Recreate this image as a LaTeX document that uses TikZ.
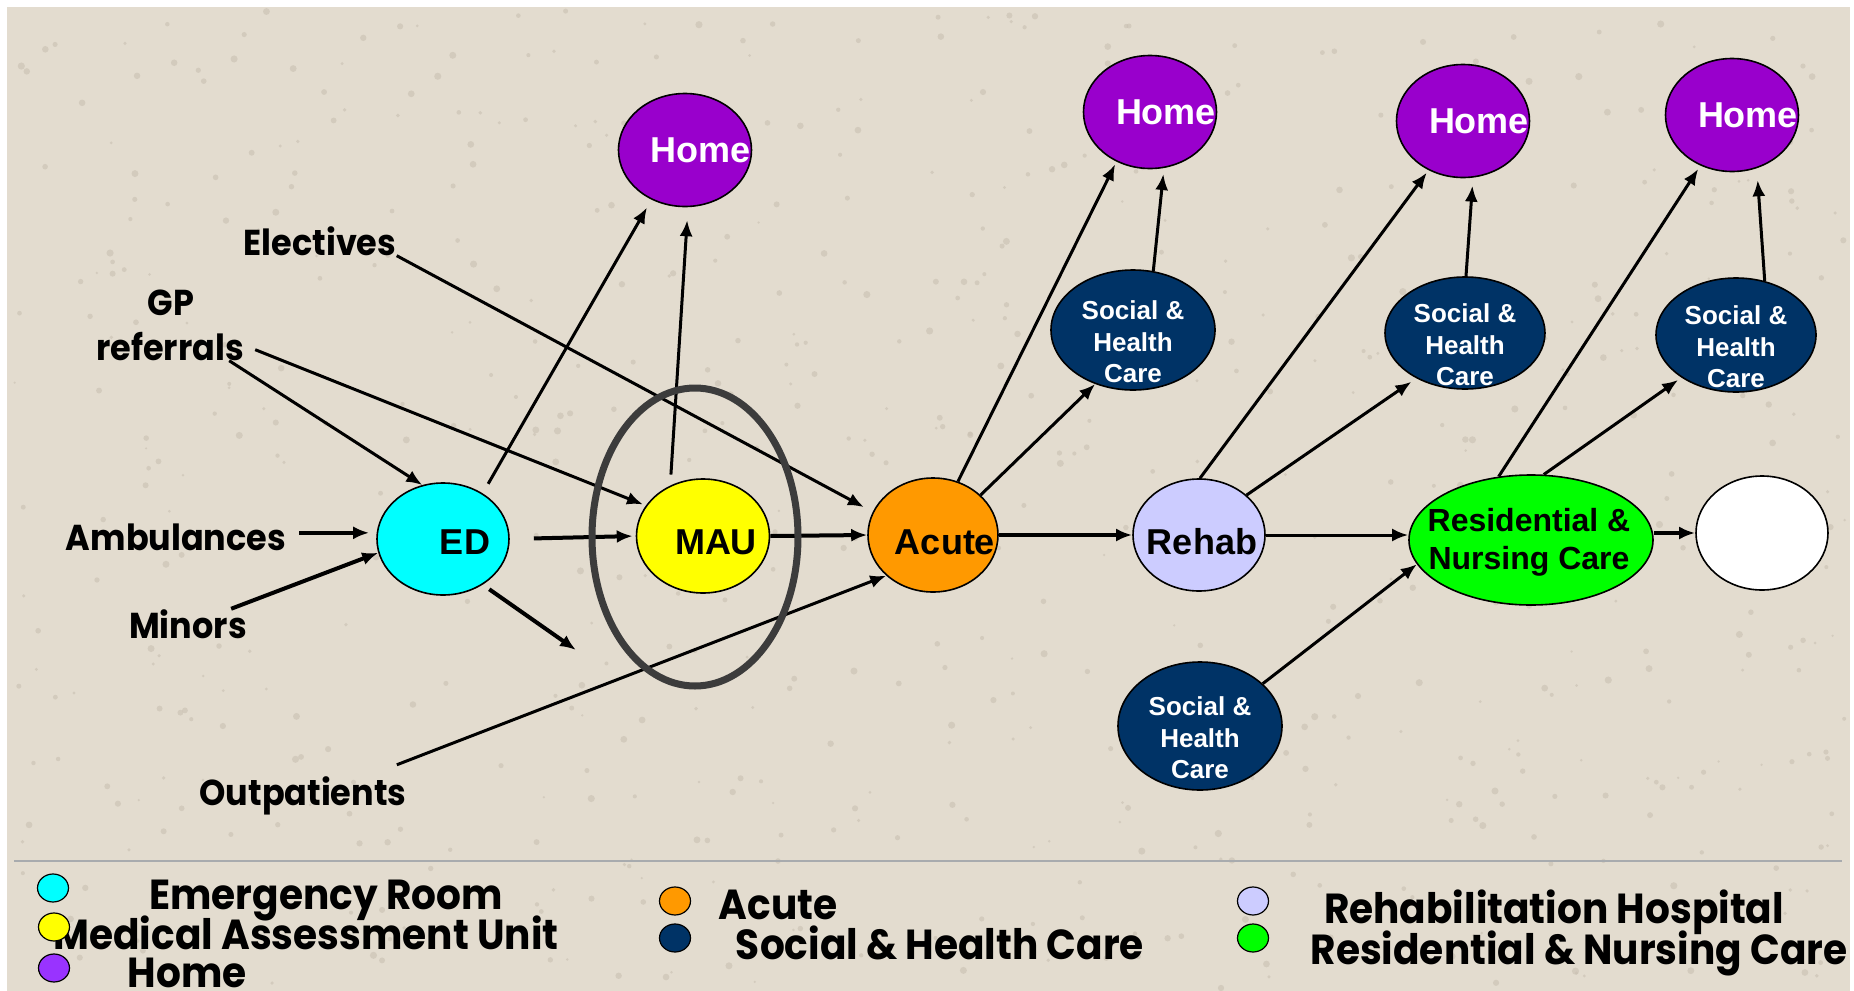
\documentclass[tikz,border=0pt]{standalone}
\usepackage{fontspec}
\setmainfont{Liberation Sans}
\newfontfamily\gothic{Poppins}[FakeStretch=0.93]
\usetikzlibrary{arrows.meta,shapes.geometric}
\definecolor{bgc}{HTML}{E3DCCF}
\definecolor{speck}{HTML}{C9C0B2}
\definecolor{homec}{HTML}{9900CC}
\definecolor{navyc}{HTML}{003366}
\definecolor{oranc}{HTML}{FF9900}
\definecolor{lavc}{HTML}{CCCCFF}
\definecolor{legpur}{HTML}{9933FF}
\definecolor{ringc}{HTML}{3C3C3C}
\definecolor{sepc}{HTML}{A8ABAE}
\definecolor{cyanc}{HTML}{00FFFF}
\definecolor{yelc}{HTML}{FFFF00}
\definecolor{grnc}{HTML}{00FF00}
\begin{document}
\begin{tikzpicture}[x=0.5pt,y=-0.5pt,
  ell/.style={ellipse, draw=black, line width=0.8pt, inner sep=0pt},
  ntxt/.style={font=\bfseries\fontsize{18}{20}\selectfont, inner sep=0pt},
  homen/.style={ell, fill=homec, minimum width=66.5pt, minimum height=56.5pt,
     label={[ntxt, text=white, xshift=8pt]center:Home}},
  socn/.style={ell, fill=navyc, minimum width=81pt, minimum height=58pt,
     label={[font=\bfseries\fontsize{13}{15.75}\selectfont, inner sep=0pt, text=white, align=center, yshift=-6pt]center:Social \&\\Health\\Care}},
  lab/.style={font=\gothic\bfseries\fontsize{18}{22}\selectfont, inner sep=0pt, anchor=base},
  leg/.style={font=\gothic\bfseries\fontsize{21}{25}\selectfont, inner sep=0pt, anchor=base},
  dot/.style={ellipse, draw=black, line width=0.6pt, inner sep=0pt, minimum width=15.5pt, minimum height=14pt},
  arr/.style={-{Latex[length=8pt,width=6.5pt]}, line width=1.5pt},
  arrt/.style={arr, line width=2pt}]
\useasboundingbox (0,0) rectangle (1854,991);
\clip (0,0) rectangle (1854,991);
\fill[white] (0,0) rectangle (1854,991);
\fill[bgc] (7,7) rectangle (1850,991);
% paper texture
\pgfmathsetseed{42}
\foreach \i in {1,...,700}{
  \pgfmathsetmacro{\px}{10+1838*rnd}
  \pgfmathsetmacro{\py}{10+978*rnd}
  \pgfmathsetmacro{\pr}{0.6+1.2*rnd}
  \fill[speck, opacity=0.6] (\px,\py) circle[radius=\pr pt];
}

% main nodes
\node[ell, fill=cyanc, minimum width=66pt, minimum height=56pt,
  label={[ntxt, xshift=11pt, yshift=-1.5pt]center:ED}] (ED) at (443,539) {};
\node[ell, fill=yelc, minimum width=66.5pt, minimum height=57pt,
  label={[ntxt, xshift=6.5pt, yshift=-3pt]center:MAU}] (MAU) at (703,536) {};
\node[ell, fill=oranc, minimum width=65pt, minimum height=57pt,
  label={[ntxt, xshift=6pt, yshift=-3.5pt]center:Acute}] (Acute) at (933,535) {};
\node[ell, fill=lavc, minimum width=66pt, minimum height=56pt,
  label={[ntxt, xshift=1.5pt, yshift=-3.5pt]center:Rehab}] (Rehab) at (1199,535) {};
\node[ell, fill=grnc, minimum width=122pt, minimum height=65pt,
  label={[font=\bfseries\fontsize{16}{19}\selectfont, inner sep=0pt, align=center, xshift=-1pt, yshift=-1pt]center:Residential \&\\Nursing Care}] (Resid) at (1531,540) {};
\node[ell, fill=white, minimum width=66pt, minimum height=57pt] (White) at (1762,533) {};

\node[homen] (Home1) at (685,150) {};
\node[homen] (Home2) at (1150,112) {};
\node[homen] (Home3) at (1463,121) {};
\node[homen] (Home4) at (1732,115) {};

\node[socn, minimum width=82pt, minimum height=60pt] (Soc1) at (1133,330) {};
\node[socn, minimum width=80pt, minimum height=56pt] (Soc2) at (1465,333) {};
\node[socn, minimum width=80pt, minimum height=57pt] (Soc3) at (1736,335) {};
\node[socn, minimum width=82pt, minimum height=64pt] (SocB) at (1200,726) {};

% text labels
\node[lab] (elect) at (320,255) {Electives};
\node[lab] (gp) at (171,315) {GP};
\node[lab] (refer) at (170,360) {referrals};
\node[lab] (amb) at (176,550) {Ambulances};
\node[lab] (minors) at (188,638) {Minors};
\node[lab] (outp) at (303,805) {Outpatients};
\coordinate (edEnd) at (576,650);

% arrows
\draw[arr, shorten >=5pt] (elect.south east) -- (Acute.159.6);
\draw[arr] ([xshift=-7.5pt]refer.south east) -- (ED.111);
\draw[arr, shorten >=1.5pt] ([xshift=5.5pt,yshift=5.5pt]refer.south east) -- (MAU.152.7);
\draw[arr, shorten <=5.5pt, shorten >=4.5pt] (ED.49.3) -- (Home1.236.8);
\draw[arr, shorten <=5.5pt, shorten >=6.5pt] (MAU.123.7) -- (Home1.273.3);
\draw[arrt, shorten >=3.5pt] ([xshift=6.5pt,yshift=2pt]amb.east) -- ([yshift=2pt]amb.east -| ED.west);
\draw[arrt] ([xshift=-8pt]minors.north east) -- (ED.192.4);
\draw[arrt, shorten <=12pt, shorten >=1.5pt] (ED.east) -- (MAU.west);
\draw[arrt, shorten <=4pt] (ED.-49.8) -- (edEnd);
\draw[arrt] (MAU.east) -- (Acute.west);
\draw[arr] ([xshift=-5pt,yshift=5.5pt]outp.north east) -- (Acute.221.1);
\draw[arr, shorten >=1.5pt] (Acute.65.9) -- (Home2.236.3);
\draw[arr] (Acute.40.6) -- (Soc1.235.1);
\draw[arr, shorten >=3pt] (Soc1.71) -- (Home2.284.7);
\draw[arrt] (Acute.east) -- (Rehab.west);
\draw[arr, shorten >=1.5pt] (Rehab.89) -- (Home3.235.5);
\draw[arr, shorten >=3pt] (Rehab.40.3) -- (Soc2.223.3);
\draw[arr, shorten >=4pt] (Soc2.89) -- (Home3.280.6);
\draw[arr] (Rehab.east) -- (Rehab.east -| Resid.west);
\draw[arr] (SocB.34.9) -- (Resid.192.8);
\draw[arr, shorten >=2pt] (Resid.117.1) -- (Home4.238.1);
\draw[arr, shorten >=2pt] (Resid.79.4) -- (Soc3.218.8);
\draw[arr, shorten >=6pt] (Soc3.62.6) -- (Home4.295.8);
\draw[arrt] (Resid.east |- White.west) -- (White.west);

% highlight ring
\node[ellipse, draw=ringc, line width=3.5pt, minimum width=103pt, minimum height=149pt, inner sep=0pt] (ring) at (695,537) {};

% legend
\draw[sepc, line width=1pt] (14,860.5) -- (1842,860.5);
\node[leg] (lgER) at (326,909) {Emergency Room};
\node[leg] (lgMAU) at (306,949) {Medical Assessment Unit};
\node[leg] (lgHome) at (187,987) {Home};
\node[leg] (lgAc) at (778,919) {Acute};
\node[leg] (lgSoc) at (940,959) {Social \& Health Care};
\node[leg] (lgReh) at (1554,923) {Rehabilitation Hospital};
\node[leg] (lgRes) at (1579,964) {Residential \& Nursing Care};
\node[dot, fill=cyanc] (d1) at (53,888) {};
\node[dot, fill=yelc] (d2) at (54,927) {};
\node[dot, fill=legpur] (d3) at (54,968) {};
\node[dot, fill=oranc] (d4) at (675,901) {};
\node[dot, fill=navyc] (d5) at (675,938) {};
\node[dot, fill=lavc] (d6) at (1253,901) {};
\node[dot, fill=grnc] (d7) at (1253,938) {};
\end{tikzpicture}
\end{document}
